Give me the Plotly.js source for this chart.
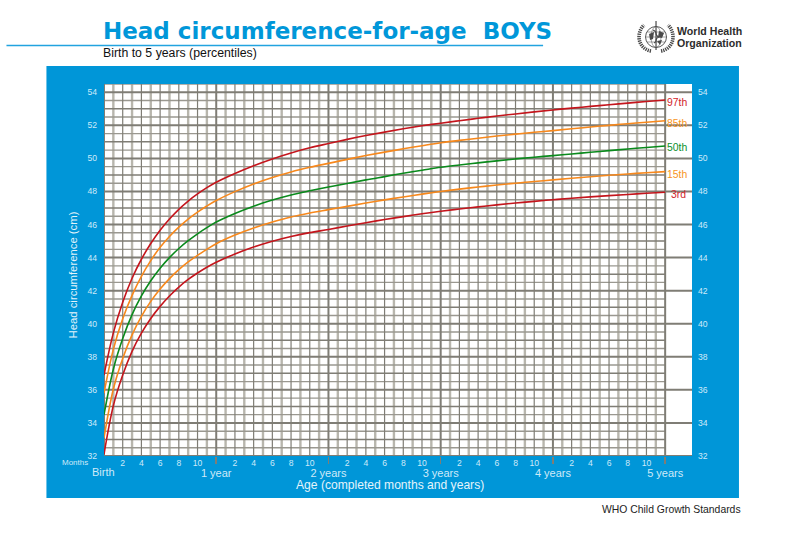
<!DOCTYPE html>
<html><head><meta charset="utf-8">
<script src="https://cdn.plot.ly/plotly-3.0.1.min.js"></script>
<style>html,body{margin:0;padding:0;background:#fff;overflow:hidden}#c{width:786px;height:533px}</style>
</head><body><div id="c"></div>
<script>
const months = [0,1,2,3,4,5,6,7,8,9,10,11,12,14,16,18,20,22,24,26,28,30,32,34,36,38,40,42,44,46,48,50,52,54,56,58,60];
const p3  = [32.1,35.05,36.9,38.33,39.43,40.32,41.05,41.68,42.22,42.68,43.07,43.42,43.72,44.22,44.64,44.99,45.28,45.51,45.70,45.91,46.11,46.30,46.48,46.65,46.80,46.94,47.07,47.19,47.30,47.40,47.50,47.59,47.67,47.75,47.82,47.89,47.95];
const p15 = [33.1,36.05,37.9,39.33,40.45,41.35,42.1,42.73,43.27,43.74,44.14,44.5,44.84,45.36,45.79,46.15,46.46,46.70,46.90,47.1,47.3,47.49,47.67,47.84,48.0,48.14,48.27,48.39,48.5,48.6,48.7,48.8,48.89,48.98,49.06,49.13,49.2];
const p50 = [34.5,37.25,39.1,40.55,41.68,42.6,43.36,44.0,44.55,45.02,45.44,45.81,46.15,46.67,47.11,47.48,47.79,48.04,48.27,48.48,48.70,48.90,49.10,49.28,49.46,49.6,49.73,49.85,49.97,50.07,50.17,50.27,50.37,50.47,50.57,50.66,50.75];
const p85 = [35.8,38.45,40.3,41.72,42.87,43.82,44.62,45.28,45.84,46.33,46.75,47.12,47.45,47.99,48.45,48.84,49.18,49.46,49.70,49.94,50.17,50.38,50.58,50.77,50.95,51.09,51.22,51.35,51.47,51.58,51.68,51.79,51.9,52.0,52.1,52.19,52.28];
const p97 = [36.9,39.45,41.3,42.75,43.9,44.85,45.65,46.33,46.92,47.42,47.85,48.23,48.56,49.09,49.56,49.97,50.33,50.64,50.90,51.15,51.38,51.59,51.79,51.97,52.13,52.28,52.425,52.56,52.69,52.815,52.93,53.04,53.145,53.245,53.345,53.44,53.53];
const curveNames = ['3rd','15th','50th','85th','97th'];
const curveColors = ['#c4151c','#f7881c','#0a8a1c','#f7881c','#c4151c'];
const labelColors = ['#d2232a','#f7941d','#0a8f2c','#f7941d','#d2232a'];
const labelY = [47.8,49.05,50.65,52.12,53.4];
const yTicks = [32,34,36,38,40,42,44,46,48,50,52,54];
const monthTicks = [];
for (let y=0;y<5;y++) for (const m of [2,4,6,8,10]) monthTicks.push(y*12+m);
const monthText = monthTicks.map(v=>String(v%12));
const yearTicks = [12,24,36,48,60];
const yearText = ['1 year','2 years','3 years','4 years','5 years'];

const W=786,H=533,L=103.6,R=692,T=84,B=456;
const px=x=>(x-L)/(R-L), py=y=>(B-y)/(B-T);
const xMax=62.87, yMax=54.5, gridDark='#7f7d75', gridLight='#b8b6ad', blue='#0096d8', pale='#cfeaf8';

function seg(xs,ys){return {type:'scatter',mode:'lines',x:xs,y:ys,hoverinfo:'skip',showlegend:false};}
function hLines(vals,end,color,width){
  const xs=[],ys=[];vals.forEach(v=>{xs.push(0,end,null);ys.push(v,v,null);});
  const t=seg(xs,ys);t.line={color:color,width:width};return t;
}
function vLines(vals,color,width){
  const xs=[],ys=[];vals.forEach(v=>{xs.push(v,v,null);ys.push(32,yMax,null);});
  const t=seg(xs,ys);t.line={color:color,width:width};return t;
}
const odd=[],even=[],years=[];
for(let m=0;m<=60;m++){ if(m%12===0) years.push(m); else if(m%2) odd.push(m); else even.push(m); }
const halves=[],odds=[];
for(let c=32;c<54.6;c+=0.5){ if(c%1) halves.push(c); else if(c%2) odds.push(c); }
const traces=[
  vLines(odd,gridLight,2.4),
  hLines(halves,60,'#9a9890',1.4),
  vLines(even,gridDark,1.2),
  hLines(odds,60,gridDark,1.5),
  hLines(yTicks,xMax,gridDark,2),
  vLines(years,gridDark,2),
];
[p3,p15,p50,p85,p97].forEach((v,i)=>traces.push({type:'scatter',mode:'lines',name:curveNames[i],x:months,y:v,
  line:{color:curveColors[i],width:1.6,shape:'spline',smoothing:1},showlegend:false}));
traces.push({type:'scatter',mode:'lines',x:[0,0],y:[32,32],xaxis:'x2',yaxis:'y2',hoverinfo:'skip',showlegend:false,line:{width:0}});

const logo=`<svg xmlns="http://www.w3.org/2000/svg" width="40" height="40" viewBox="-20 -20 40 40">
<g fill="none" stroke="#4a4a4a">
<circle r="10.5" stroke-width=".9"/><ellipse rx="5" ry="10.5" stroke-width=".5"/><path d="M-10.5 0H10.5M-9 -5H9M-9 5H9" stroke-width=".5"/>
<path d="M0 -16V13" stroke-width="1.2"/><path d="M-3 -7C3 -5 -3 -2 3 0C-3 2 3 4 -2 6" stroke-width="1.2"/>
<path d="M-5 14C-12 13-17 7-17 0C-17-5-15-9-12-12" stroke-width="3.6" stroke-dasharray="1.3 .9"/>
<path d="M5 14C12 13 17 7 17 0C17-5 15-9 12-12" stroke-width="3.6" stroke-dasharray="1.3 .9"/>
</g><path d="M-7 -3L-2 -5L-3 2L-6 3ZM3 -6L8 -4L6 1L2 0ZM1 4L6 3L4 8Z" fill="#4a4a4a"/></svg>`;

const ann=(text,x,y,size,color,anchor,extra)=>Object.assign({text:text,xref:'paper',yref:'paper',x:px(x),y:py(y),
  xanchor:anchor||'center',yanchor:'middle',showarrow:false,font:{family:'Liberation Sans, Arial, sans-serif',size:size,color:color},borderpad:0,borderwidth:0},extra||{});

const annotations=[
  ann('Birth to 5 years (percentiles)',103,53.5,12.3,'#111','left'),
  ann('Birth',103,472,11,pale),
  ann('Months',62,462,8,pale,'left'),
  ann('WHO Child Growth Standards',741.5,509.5,10.4,'#222','right'),
  ann('World Health',677,30.5,10.6,'#2c2c2c','left',{font:{family:'Liberation Sans, sans-serif',size:10.6,color:'#2c2c2c',weight:700}}),
  ann('Organization',677,43,10.6,'#2c2c2c','left',{font:{family:'Liberation Sans, sans-serif',size:10.6,color:'#2c2c2c',weight:700}}),
  ann('Age (completed months and years)',390,485,12.1,'#e4f4fb'),
  ann('Head circumference (cm)',73,275,11.3,'#e4f4fb','center',{textangle:-90}),
];
curveNames.forEach((n,i)=>annotations.push({text:n,xref:'x',yref:'y',x:i===0?60.5:60.1,y:labelY[i],xanchor:'left',yanchor:'middle',showarrow:false,borderpad:0,
  font:{family:'Liberation Sans, Arial, sans-serif',size:10.4,color:labelColors[i]}}));

const axisFont={family:'Liberation Sans, Arial, sans-serif',size:8.6,color:pale};
const layout={
  width:W,height:H,autosize:false,showlegend:false,
  paper_bgcolor:'rgba(0,0,0,0)',plot_bgcolor:'rgba(0,0,0,0)',
  margin:{l:L,r:W-R,t:T,b:H-B,pad:0},
  title:{text:'Head circumference-for-age  BOYS',x:103/W,xref:'container',xanchor:'left',y:1-30.5/H,yref:'container',yanchor:'middle',
    font:{family:'DejaVu Sans, Liberation Sans, sans-serif',size:23,weight:700,color:'#0097d9'}},
  xaxis:{range:[0,xMax],tickmode:'array',tickvals:monthTicks,ticktext:monthText,ticks:'',showgrid:false,zeroline:false,showline:false,
    tickfont:axisFont,tickangle:0,automargin:false},
  xaxis2:{overlaying:'x',matches:'x',side:'bottom',anchor:'y',tickmode:'array',tickvals:yearTicks,ticktext:yearText,ticks:'outside',ticklen:7,tickwidth:1.6,tickcolor:gridDark,
    showgrid:false,zeroline:false,showline:false,tickfont:{family:'Liberation Sans, Arial, sans-serif',size:11,color:pale},tickangle:0},
  yaxis:{range:[32,yMax],tickmode:'array',tickvals:yTicks,ticks:'',showgrid:false,zeroline:false,showline:false,tickfont:axisFont,ticklabelstandoff:6,ticklabelshift:1.5,automargin:false},
  yaxis2:{overlaying:'y',matches:'y',side:'right',anchor:'x',tickmode:'array',tickvals:yTicks,ticks:'',showgrid:false,zeroline:false,showline:false,tickfont:axisFont,ticklabelstandoff:5,ticklabelshift:1.5},
  shapes:[
    {type:'rect',xref:'paper',yref:'paper',x0:px(46),x1:px(739),y0:py(498),y1:py(66),fillcolor:blue,line:{width:0},layer:'below'},
    {type:'rect',xref:'paper',yref:'paper',x0:0,x1:1,y0:0,y1:1,fillcolor:'#fff',line:{width:0},layer:'below'},
    {type:'line',xref:'paper',yref:'paper',x0:px(6),x1:px(543),y0:py(45.5),y1:py(45.5),line:{color:'#22a3df',width:1.6},layer:'below'},
  ],
  annotations:annotations,
  images:[{source:'data:image/svg+xml;charset=utf-8,'+encodeURIComponent(logo),xref:'paper',yref:'paper',x:px(656),y:py(37),sizex:40/(R-L),sizey:40/(B-T),xanchor:'center',yanchor:'middle',sizing:'stretch',layer:'above'}],
};
Plotly.newPlot('c',traces,layout,{displayModeBar:false,staticPlot:true});
</script></body></html>
